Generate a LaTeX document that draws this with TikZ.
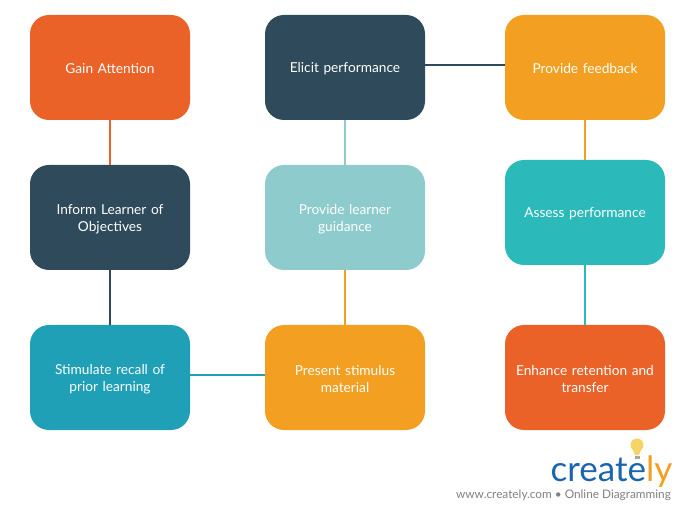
\documentclass[tikz,border=0pt]{standalone}
\usepackage{fontspec}
\setmainfont{Lato}
\definecolor{corange}{HTML}{EB6228}
\definecolor{cnavy}{HTML}{2E4A5B}
\definecolor{camber}{HTML}{F39F21}
\definecolor{cteal}{HTML}{2CB9B9}
\definecolor{cpale}{HTML}{8DCBCC}
\definecolor{cblue}{HTML}{1FA0B7}
\definecolor{logoblue}{HTML}{1B64AE}
\definecolor{logogrey}{HTML}{808080}
\definecolor{bulb}{HTML}{F6D365}
\tikzset{
  x=1pt,y=-1pt,
  card/.style={minimum width=160pt,minimum height=105pt,rounded corners=19pt,inner sep=2pt,
    text=white,align=center,font=\fontsize{13.7pt}{17pt}\selectfont,text width=150pt,
    execute at begin node={\rule{0pt}{13pt}}},
  link/.style={line width=2pt},
}
\begin{document}
\begin{tikzpicture}
\useasboundingbox (0,0) rectangle (685,510);
\node[card,fill=corange] (gain) at (110,67.5) {Gain Attention};
\node[card,fill=cnavy] (inform) at (110,217.5) {Inform Learner of\\Objectives};
\node[card,fill=cblue] (recall) at (110,377.5) {Stimulate recall of\\prior learning};
\node[card,fill=cnavy] (elicit) at (345,67.5) {Elicit performance};
\node[card,fill=cpale] (guide) at (345,217.5) {Provide learner\\guidance};
\node[card,fill=camber] (present) at (345,377.5) {Present stimulus\\material};
\node[card,fill=camber] (feedback) at (585,67.5) {Provide feedback};
\node[card,fill=cteal] (assess) at (585,212.5) {Assess performance};
\node[card,fill=corange] (enhance) at (585,377.5) {Enhance retention and\\transfer};
\draw[link,corange] (gain) -- (inform);
\draw[link,cnavy] (inform) -- (recall);
\draw[link,cblue] ([yshift=2.5pt]recall.east) -- ([yshift=2.5pt]present.west);
\draw[link,camber] (present) -- (guide);
\draw[link,cpale] (guide) -- (elicit);
\draw[link,cnavy] ([yshift=2.5pt]elicit.east) -- ([yshift=2.5pt]feedback.west);
\draw[link,camber] (feedback) -- (assess);
\draw[link,cteal] (assess) -- (enhance);
% logo
\fill[bulb] (637,445) circle (6.5pt);
\fill[bulb] (632.5,449) -- (641.5,449) -- (639,455) -- (635,455) -- cycle;
\fill[logogrey!70] (634.5,455.5) rectangle (639.5,458.5);
\node[anchor=base west,inner sep=0pt,font=\fontsize{35pt}{36pt}\selectfont] (logo) at (550.5,481) {\textcolor{logoblue}{create}\textcolor{camber}{ly}};
\node[anchor=base east,inner sep=0pt,text=logogrey,font=\fontsize{11.8pt}{13pt}\selectfont] (url) at (671,498) {www.creately.com • Online Diagramming};
\end{tikzpicture}
\end{document}
